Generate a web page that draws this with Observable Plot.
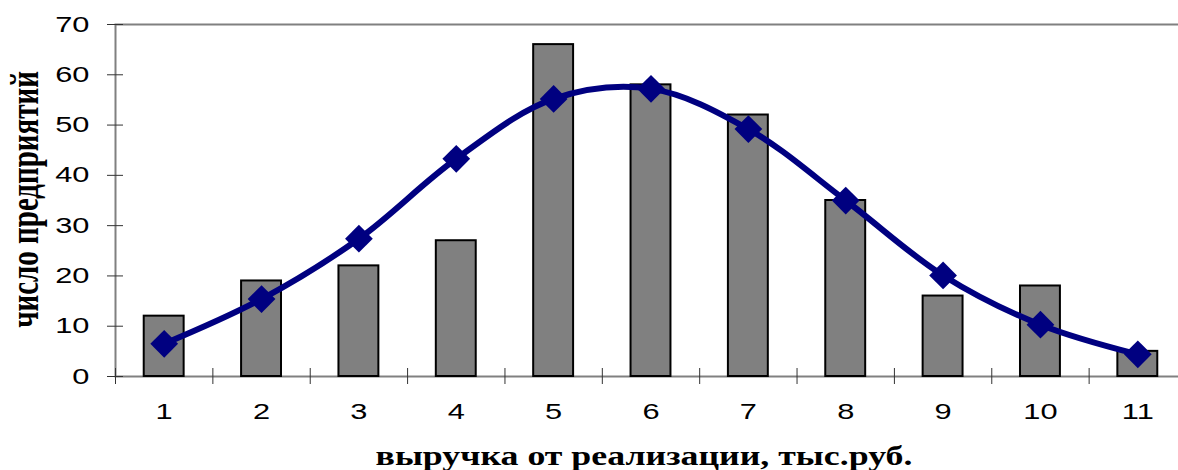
<!DOCTYPE html>
<html><head><meta charset="utf-8">
<script src="https://cdn.jsdelivr.net/npm/d3@7"></script>
<script src="https://cdn.jsdelivr.net/npm/@observablehq/plot@0.6"></script>
<style>html,body{margin:0;padding:0;background:#fff;overflow:hidden}</style>
</head><body><div id="chart"></div>
<script>
const categories = ["1","2","3","4","5","6","7","8","9","10","11"];
const barValues = [12,19,22,27,66,58,52,35,16,18,5];
const lineValues = [6.5,15.4,27.4,43.3,55.2,57.2,49.2,35.0,20.1,10.3,4.4];
const yTicks = [0,10,20,30,40,50,60,70];
const xTitle = "выручка от реализации, тыс.руб.";
const yTitle = "число предприятий";

const data = categories.map((c, i) => ({c, bar: barValues[i], fit: lineValues[i]}));

const W = 1178, H = 470, mL = 115, mT = 24, mB = 94, mR = -8;
const step = (W - mR - mL) / categories.length;
const sxTick = 1.4, sxXT = 1.28, sxYT = 1.35;
const tickFont = "Liberation Sans, Arial, sans-serif";
const titleFont = "Liberation Serif, Times New Roman, serif";

const chart = Plot.plot({
  width: W, height: H, marginLeft: mL, marginRight: mR, marginTop: mT, marginBottom: mB,
  style: {background: "#fff", overflow: "hidden", maxWidth: "none"},
  x: {type: "band", domain: categories, paddingInner: 0.59, paddingOuter: 0.295, round: false, axis: null},
  y: {domain: [0, 70], axis: null},
  marks: [
    Plot.frame({stroke: "#808080", strokeWidth: 2}),
    Plot.barY(data, {x: "c", y: "bar", fill: "#808080", stroke: "#000", strokeWidth: 2}),
    Plot.axisY(yTicks, {tickSize: 16, dx: 8, tickPadding: 18, stroke: "#333", fontSize: 22, fontFamily: tickFont, fill: "#000", label: null}),
    Plot.axisX(categories, {tickSize: 16, dy: -8, dx: -step / 2, stroke: "#333", tickFormat: () => "", label: null}),
    Plot.axisX(categories, {tickSize: 0, tickPadding: 27, fontSize: 22, fontFamily: tickFont, fill: "#000", label: null}),
    Plot.line(data, {x: "c", y: "fit", curve: "catmull-rom", stroke: "#000080", strokeWidth: 6}),
    Plot.dot(data, {x: "c", y: "fit", symbol: "diamond2", r: 12.5, fill: "#000080", stroke: "none"}),
    Plot.text([xTitle], {text: d => d, frameAnchor: "bottom", dx: -7, dy: 88, lineAnchor: "bottom", fontSize: 28, fontWeight: "bold", fontFamily: titleFont, fill: "#000"}),
    Plot.text([yTitle], {text: d => d, frameAnchor: "left", textAnchor: "middle", rotate: -90, dx: -78, dy: -1, lineAnchor: "bottom", fontSize: 29, fontWeight: "bold", fontFamily: titleFont, fill: "#000"})
  ]
});

d3.select(chart).selectAll("text").each(function() {
  const t = this.textContent;
  const sx = t === xTitle ? sxXT : t === yTitle ? sxYT : sxTick;
  const tr = this.getAttribute("transform") || "";
  if (/translate\(/.test(tr)) {
    this.setAttribute("transform", tr.replace(/(translate\([^)]*\))/, `$1 scale(${sx},1)`));
  } else {
    const x = +this.getAttribute("x") || 0, y = +this.getAttribute("y") || 0;
    this.removeAttribute("x"); this.removeAttribute("y");
    this.setAttribute("transform", `translate(${x},${y}) scale(${sx},1) ${tr}`);
  }
});

document.getElementById("chart").appendChild(chart);
</script>
</body></html>
